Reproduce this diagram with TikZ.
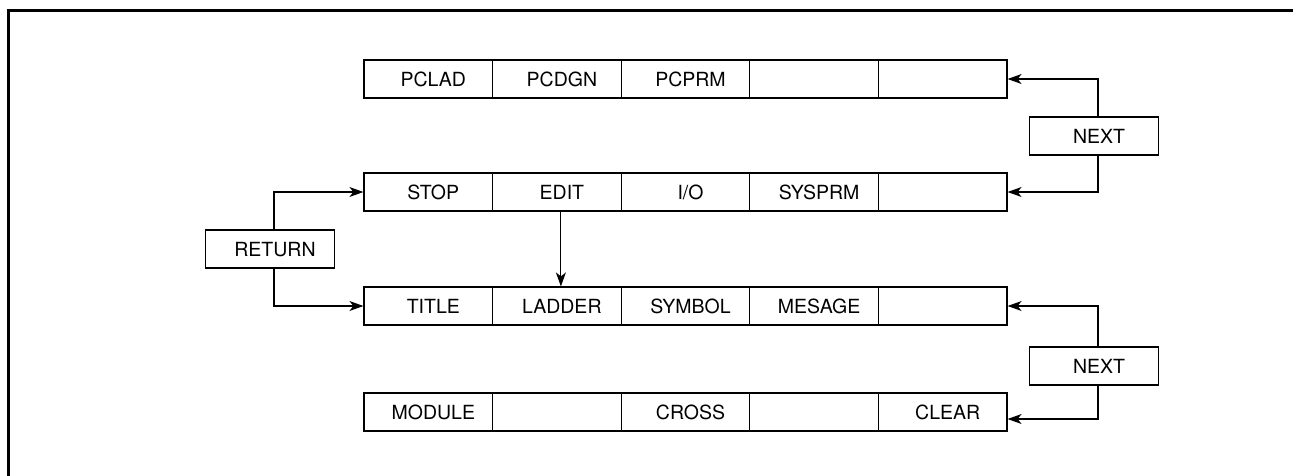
\documentclass[tikz,border=0pt]{standalone}
\usepackage{fontspec}
\setmainfont{TeX Gyre Heros}
\usetikzlibrary{arrows.meta}
\begin{document}
\begin{tikzpicture}[x=1pt,y=-1pt,
  cell/.style={draw, line width=1.2pt, minimum width=128.6pt, minimum height=38pt, inner sep=0pt,
    font=\fontsize{19.5}{22}\selectfont, text height=14pt, text depth=0pt},
  conn/.style={line width=1.1pt, -{Stealth[length=14pt,width=10pt,inset=4pt]}},
  frame/.style={line width=3pt}]
\useasboundingbox (0,0) rectangle (1293,475);
\begin{scope}
\clip (0,0) rectangle (1293,475);
\draw[frame] (8,490) -- (8,10) -- (1310,10);
\end{scope}
% row 1
\node[cell] (r1c1) at (428.3,79) {\hspace*{10pt}PCLAD};
\node[cell] (r1c2) at (556.9,79) {\hspace*{10pt}PCDGN};
\node[cell] (r1c3) at (685.5,79) {\hspace*{10pt}PCPRM};
\node[cell] (r1c4) at (814.1,79) {};
\node[cell] (r1c5) at (942.7,79) {};
% row 2
\node[cell] (r2c1) at (428.3,192) {\hspace*{10pt}STOP};
\node[cell] (r2c2) at (556.9,192) {\hspace*{10pt}EDIT};
\node[cell] (r2c3) at (685.5,192) {\hspace*{10pt}I/O};
\node[cell] (r2c4) at (814.1,192) {\hspace*{10pt}SYSPRM};
\node[cell] (r2c5) at (942.7,192) {};
% row 3
\node[cell] (r3c1) at (428.3,306) {\hspace*{10pt}TITLE};
\node[cell] (r3c2) at (556.9,306) {\hspace*{10pt}LADDER};
\node[cell] (r3c3) at (685.5,306) {\hspace*{10pt}SYMBOL};
\node[cell] (r3c4) at (814.1,306) {\hspace*{10pt}MESAGE};
\node[cell] (r3c5) at (942.7,306) {};
% row 4
\node[cell] (r4c1) at (428.3,412) {\hspace*{10pt}MODULE};
\node[cell] (r4c2) at (556.9,412) {};
\node[cell] (r4c3) at (685.5,412) {\hspace*{10pt}CROSS};
\node[cell] (r4c4) at (814.1,412) {};
\node[cell] (r4c5) at (942.7,412) {\hspace*{10pt}CLEAR};
% side keys
\node[cell] (next1) at (1094,136) {\hspace*{10pt}NEXT};
\node[cell] (next2) at (1094,366) {\hspace*{10pt}NEXT};
\node[cell] (ret) at (270,249) {\hspace*{10pt}RETURN};
% connectors
\draw[conn] ([xshift=4pt]next1.north) |- (r1c5.east);
\draw[conn] ([xshift=4pt]next1.south) |- (r2c5.east);
\draw[conn] ([xshift=4pt]next2.north) |- (r3c5.east);
\draw[conn] ([xshift=4pt]next2.south) |- ([yshift=-7pt]r4c5.east);
\draw[conn] ([xshift=4pt]ret.north) |- (r2c1.west);
\draw[conn] ([xshift=4pt]ret.south) |- (r3c1.west);
\draw[conn] ([xshift=4pt]r2c2.south) -- ([xshift=4pt]r3c2.north);
\end{tikzpicture}
\end{document}
